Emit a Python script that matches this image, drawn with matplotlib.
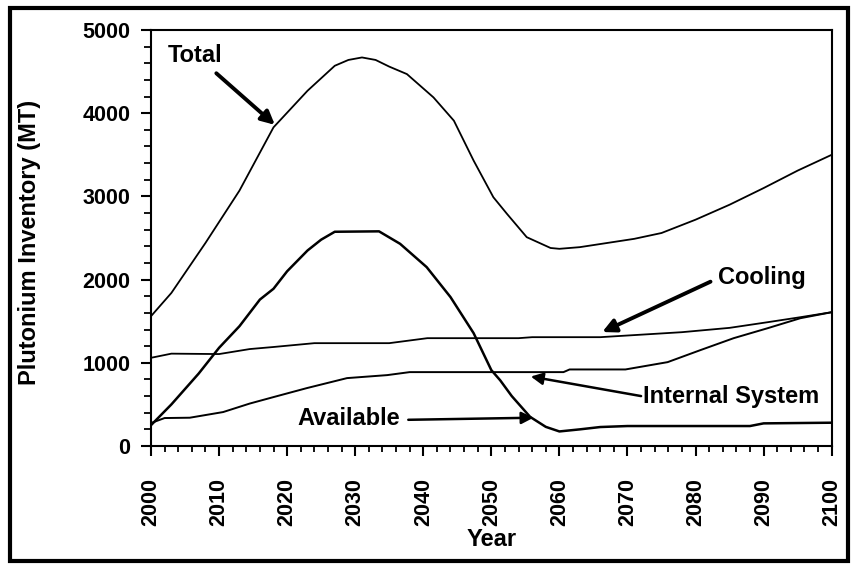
import matplotlib
matplotlib.use("Agg")
import matplotlib.pyplot as plt
from matplotlib.patches import Rectangle
from matplotlib.ticker import MultipleLocator

plt.rcParams["font.family"] = ["Liberation Sans", "DejaVu Sans"]
plt.rcParams["font.weight"] = "bold"

# ---- data (MT of plutonium) ----
total_years = [2000, 2003, 2008, 2013, 2018, 2023, 2027, 2029, 2031, 2033, 2035,
               2037.6, 2041.5, 2044.5, 2047.4, 2050.3, 2052.3, 2055.2, 2058.7,
               2060, 2063, 2067, 2071, 2075, 2080, 2085, 2090, 2095, 2100]
total_vals = [1560, 1840, 2440, 3070, 3830, 4270, 4570, 4640, 4670, 4640, 4560,
              4470, 4190, 3910, 3430, 2990, 2790, 2510, 2380,
              2370, 2390, 2440, 2490, 2560, 2720, 2900, 3100, 3310, 3500]

avail_years = [2000, 2003, 2007, 2010, 2013, 2016, 2018, 2020, 2023, 2025, 2027,
               2033.5, 2036.6, 2040.5, 2044, 2047.4, 2050, 2051.3, 2053, 2055.7,
               2058, 2060, 2063, 2066, 2070, 2088, 2090, 2100]
avail_vals = [250, 500, 870, 1180, 1440, 1760, 1890, 2100, 2350, 2480, 2575,
              2580, 2430, 2150, 1790, 1356, 912, 790, 600, 350,
              230, 175, 200, 228, 240, 240, 272, 280]

cool_years = [2000, 2003, 2010, 2014.5, 2018, 2024, 2035, 2040.6, 2054, 2056,
              2066, 2078, 2085, 2090.6, 2095.4, 2100]
cool_vals = [1060, 1110, 1105, 1165, 1190, 1236, 1236, 1296, 1296, 1308,
             1308, 1368, 1420, 1488, 1548, 1608]

int_years = [2000, 2002, 2005.7, 2010.6, 2014.5, 2018, 2022.9, 2028.8, 2034.7,
             2038, 2060.6, 2061.5, 2069.7, 2075.9, 2080.7, 2085.6, 2090.6,
             2095.4, 2100]
int_vals = [276, 336, 340, 408, 510, 588, 696, 816, 852,
            888, 888, 920, 920, 1008, 1152, 1296, 1416, 1536, 1608]

x_ticks = list(range(2000, 2101, 10))
y_ticks = [0, 1000, 2000, 3000, 4000, 5000]

fig = plt.figure(figsize=(8.53, 5.67), dpi=100, facecolor="white")
ax = fig.add_axes([0.177, 0.2134, 0.798, 0.7337])

ax.plot(total_years, total_vals, color="black", lw=1.3)
ax.plot(avail_years, avail_vals, color="black", lw=1.8)
ax.plot(cool_years, cool_vals, color="black", lw=1.3)
ax.plot(int_years, int_vals, color="black", lw=1.4)

ax.set_xlim(2000, 2100)
ax.set_ylim(0, 5000)
ax.set_xticks(x_ticks)
ax.set_yticks(y_ticks)
ax.xaxis.set_minor_locator(MultipleLocator(2))
ax.yaxis.set_minor_locator(MultipleLocator(200))
ax.tick_params(axis="x", which="major", direction="out", length=7, width=1.5,
               labelsize=15.5, pad=16, labelrotation=90)
ax.tick_params(axis="x", which="minor", direction="out", length=4, width=1.3)
ax.tick_params(axis="y", which="major", direction="out", length=7, width=1.5,
               labelsize=15.5, pad=8)
ax.tick_params(axis="y", which="minor", direction="out", length=5, width=1.3)
for s in ax.spines.values():
    s.set_linewidth(1.5)

ax.set_xlabel("Year", fontsize=17, fontweight="bold")
ax.set_ylabel("Plutonium Inventory (MT)", fontsize=17, fontweight="bold")
ax.xaxis.set_label_coords(0.5, -0.196)
ax.yaxis.set_label_coords(-0.161, 0.49)

# ---- labels with arrows ----
lbl = dict(fontsize=17, fontweight="bold", color="black")
ax.text(2002.5, 4690, "Total", ha="left", va="center", **lbl)
ax.annotate("", xy=(2018.2, 3860), xytext=(2009.6, 4480),
            arrowprops=dict(arrowstyle="-|>", lw=2.8, color="black",
                            mutation_scale=20, shrinkA=0, shrinkB=0))

ax.text(2083.3, 2030, "Cooling", ha="left", va="center", **lbl)
ax.annotate("", xy=(2066.3, 1370), xytext=(2082.2, 1975),
            arrowprops=dict(arrowstyle="-|>", lw=2.8, color="black",
                            mutation_scale=20, shrinkA=0, shrinkB=0))

ax.text(2072.3, 590, "Internal System", ha="left", va="center", **lbl)
ax.annotate("", xy=(2055.8, 835), xytext=(2072.0, 600),
            arrowprops=dict(arrowstyle="-|>", lw=1.8, color="black",
                            mutation_scale=18, shrinkA=0, shrinkB=0))

ax.text(2036.6, 336, "Available", ha="right", va="center", **lbl)
ax.annotate("", xy=(2056.2, 340), xytext=(2037.8, 315),
            arrowprops=dict(arrowstyle="-|>", lw=1.8, color="black",
                            mutation_scale=18, shrinkA=0, shrinkB=0))

# outer frame around the whole figure
fig.patches.append(Rectangle((0.0117, 0.0106), 0.9825, 0.9755,
                             transform=fig.transFigure, fill=False,
                             edgecolor="black", lw=3.0))

fig.savefig("out.png", dpi=100, facecolor="white")
